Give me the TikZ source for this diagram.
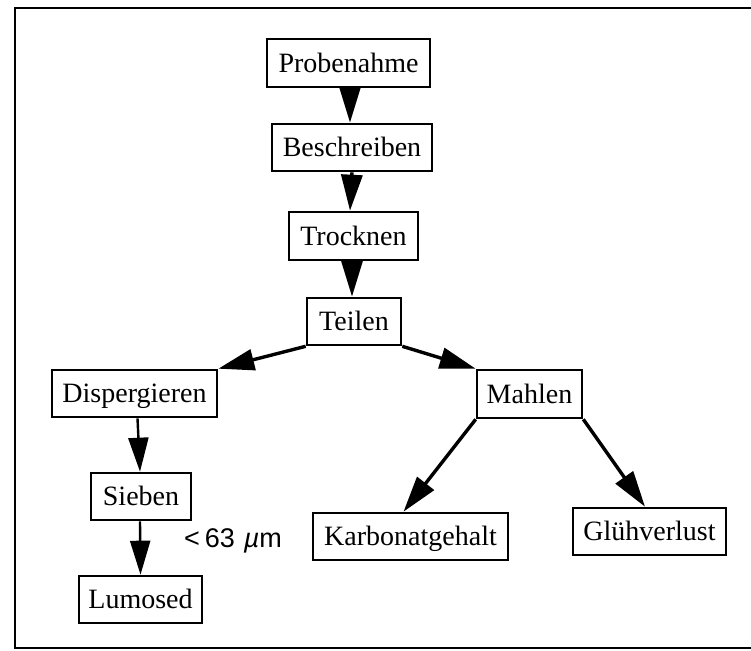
\documentclass[tikz,border=0pt]{standalone}
\usepackage{fontspec}
\setmainfont{Liberation Serif}
\newfontfamily\labelfont{Liberation Sans}
\usetikzlibrary{arrows.meta}
\begin{document}
\begin{tikzpicture}[x=1pt,y=-1pt,
  box/.style={draw, line width=2.6pt, inner sep=0pt, anchor=center,
    font=\fontsize{28}{32}\selectfont, text height=18.5pt, text depth=0pt},
  flow/.style={line width=3.4pt, -{Triangle[length=36pt,width=21pt]}},
  thinflow/.style={line width=2.4pt, -{Triangle[length=34pt,width=20pt]}},
  frame/.style={line width=2pt}]
\useasboundingbox (0,0) rectangle (751,650);
\draw[frame] (751,8) -- (15,8) -- (15,648) -- (751,648);

\node[box, minimum width=163pt, minimum height=48pt] (P) at (348.5,63) {Probenahme};
\node[box, minimum width=160pt, minimum height=47pt] (B) at (352,147.5) {Beschreiben};
\node[box, minimum width=129pt, minimum height=48pt] (T) at (353.5,236) {Trocknen};
\node[box, minimum width=94pt, minimum height=47pt] (Te) at (354,321.5) {Teilen};
\node[box, minimum width=165pt, minimum height=47pt] (D) at (134.5,393.5) {Dispergieren};
\node[box, minimum width=105pt, minimum height=48pt] (M) at (529.5,394) {Mahlen};
\node[box, minimum width=100pt, minimum height=47pt] (S) at (141,496.5) {Sieben};
\node[box, minimum width=123pt, minimum height=47pt] (L) at (140.5,599.5) {Lumosed};
\node[box, minimum width=195pt, minimum height=47pt] (K) at (410.5,536.5) {Karbonatgehalt};
\node[box, minimum width=153pt, minimum height=47pt] (G) at (649.5,531.5) {Glühverlust};

\node[font=\labelfont\fontsize{27}{30}\selectfont, inner sep=0pt] (lab) at (233,541) {<\hspace{5pt}63\hspace{9pt}\textit{µ}m};

\draw[flow] ([xshift=1.5pt]P.south) -- ([xshift=-2pt]B.north);
\draw[flow] (B.south) -- ([xshift=-3.5pt]T.north);
\draw[flow] ([xshift=-1.5pt]T.south) -- ([xshift=-2pt]Te.north);
\draw[flow] (Te.south west) -- (D.north east);
\draw[flow] (Te.south east) -- (M.north west);
\draw[flow] (M.south west) -- ([xshift=-7pt]K.north);
\draw[flow] (M.south east) -- ([xshift=-4.5pt]G.north);
\draw[thinflow] ([xshift=3pt]D.south) -- ([xshift=-1pt]S.north);
\draw[thinflow] ([xshift=-1pt]S.south) -- (L.north);
\end{tikzpicture}
\end{document}
